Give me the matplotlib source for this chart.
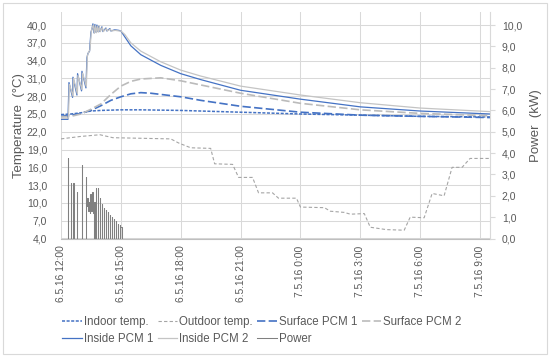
import matplotlib
matplotlib.use("Agg")
import matplotlib.pyplot as plt
from matplotlib.patches import Rectangle
from matplotlib.ticker import FuncFormatter

plt.rcParams['font.family'] = ['Liberation Sans', 'DejaVu Sans']

# hours after 6.5.16 12:00
XTICKS = [0, 3, 6, 9, 12, 15, 18, 21]
XLABELS = ['6.5.16 12:00', '6.5.16 15:00', '6.5.16 18:00', '6.5.16 21:00',
           '7.5.16 0:00', '7.5.16 3:00', '7.5.16 6:00', '7.5.16 9:00']

indoor_t = [0, 0.5, 1.0, 1.5, 2.0, 3.0, 4.0, 6.0, 9.0, 12.0, 15.0, 18.0, 21.5]
indoor_v = [24.9, 25.0, 25.2, 25.5, 25.6, 25.7, 25.7, 25.6, 25.3, 25.0, 24.8, 24.6, 24.5]

outdoor_t = [0, 0.95, 1.95, 2.6, 5.5, 5.9, 6.5, 7.5, 7.7, 8.6, 8.9, 9.6, 9.9, 10.6,
             10.9, 11.8, 12.0, 13.2, 13.5, 14.2, 14.5, 15.2, 15.5, 16.3, 17.2,
             17.5, 18.2, 18.6, 19.2, 19.6, 20.1, 20.5, 21.5]
outdoor_v = [20.8, 21.2, 21.5, 21.0, 20.8, 20.1, 19.3, 19.2, 16.6, 16.5, 14.3, 14.3,
             11.7, 11.7, 10.8, 10.8, 9.3, 9.2, 8.6, 8.4, 8.1, 8.2, 5.9, 5.5, 5.4,
             7.6, 7.5, 11.6, 11.2, 16.0, 16.0, 17.5, 17.5]

surf1_t = [0, 0.5, 1.0, 1.5, 2.0, 2.5, 3.0, 3.5, 4.0, 4.5, 5.0, 6.0, 7.0, 9.0,
           12.0, 15.0, 18.0, 21.5]
surf1_v = [24.6, 24.8, 25.1, 25.6, 26.4, 27.3, 27.9, 28.4, 28.6, 28.5, 28.3, 27.9,
           27.3, 26.3, 25.3, 24.8, 24.6, 24.4]

surf2_t = [0, 0.5, 1.0, 1.5, 2.0, 2.5, 3.0, 3.5, 4.0, 5.0, 6.0, 7.0, 9.0, 12.0,
           15.0, 18.0, 21.5]
surf2_v = [24.5, 24.6, 25.0, 25.8, 26.7, 28.3, 29.7, 30.5, 30.9, 31.1, 30.6, 29.9,
           28.5, 26.8, 25.7, 25.1, 24.7]

in1_t = [0, 0.35, 0.40, 0.58, 0.60, 0.80, 0.83, 1.03, 1.05, 1.25, 1.30, 1.35, 1.43,
         1.50, 1.55, 1.60, 1.65, 1.70, 1.75, 1.80, 1.85, 1.90, 1.95, 2.05, 2.10,
         2.25, 2.30, 2.45, 2.50, 2.70, 2.90, 3.0, 3.2, 3.5, 4.0, 5.0, 6.0, 7.0,
         9.0, 12.0, 15.0, 18.0, 21.5]
in1_v = [24.1, 24.1, 30.3, 27.8, 31.2, 28.2, 31.8, 28.9, 32.2, 29.4, 34.5, 35.2, 35.6,
         38.8, 39.3, 40.2, 38.7, 40.1, 38.8, 40.0, 38.9, 39.8, 38.9, 39.7, 38.9,
         39.5, 39.0, 39.4, 39.0, 39.2, 39.1, 39.0, 38.0, 36.5, 35.0, 33.2, 31.8,
         30.8, 29.0, 27.5, 26.2, 25.5, 25.0]

in2_t = [0, 0.37, 0.42, 0.60, 0.63, 0.82, 0.85, 1.05, 1.08, 1.27, 1.32, 1.38, 1.45,
         1.52, 1.57, 1.62, 1.67, 1.72, 1.77, 1.82, 1.87, 1.92, 1.97, 2.07, 2.12,
         2.27, 2.32, 2.47, 2.52, 2.72, 2.92, 3.0, 3.2, 3.5, 4.0, 5.0, 6.0, 7.0,
         9.0, 12.0, 15.0, 18.0, 21.5]
in2_v = [24.3, 24.3, 30.0, 28.0, 31.0, 28.4, 31.5, 29.1, 31.9, 29.6, 34.8, 35.4, 35.8,
         39.0, 39.6, 40.0, 38.6, 39.9, 38.7, 39.8, 38.8, 39.7, 38.9, 39.6, 38.9,
         39.4, 39.0, 39.3, 39.0, 39.1, 39.0, 39.0, 38.4, 37.0, 35.6, 33.8, 32.4,
         31.4, 29.7, 28.2, 26.9, 26.0, 25.4]

# power, stepwise samples (kW)
pow_t = [0.00, 0.33, 0.37, 0.48, 0.52, 0.61, 0.65, 0.78, 0.81, 1.03, 1.07,
         1.23, 1.27, 1.31, 1.35, 1.39, 1.43, 1.47, 1.51, 1.55, 1.59, 1.63,
         1.66, 1.69, 1.74, 1.77, 1.84, 1.87, 1.94, 1.97, 2.04, 2.07, 2.14, 2.17,
         2.24, 2.27, 2.34, 2.37, 2.44, 2.47, 2.54, 2.57, 2.64, 2.67, 2.74, 2.77,
         2.84, 2.87, 2.94, 2.97, 3.06, 21.5]
pow_v = [0, 3.75, 0, 2.6, 0, 2.6, 0, 2.2, 0, 3.45, 0,
         2.9, 1.5, 1.9, 1.3, 1.7, 1.2, 2.1, 1.3, 2.2, 1.2, 0,
         1.7, 0, 2.35, 0, 2.35, 0, 1.9, 0, 1.6, 0, 1.45, 0,
         1.35, 0, 1.24, 0, 1.1, 0, 1.0, 0, 0.9, 0, 0.8, 0,
         0.7, 0, 0.62, 0.53, 0, 0]

BLUE = '#4472C4'
TXT = '#595959'
GRID = '#D9D9D9'

fig = plt.figure(figsize=(5.5, 3.59), dpi=100)
ax = fig.add_axes([61 / 550, 120.5 / 359, 429 / 550, 226.5 / 359])
ax2 = ax.twinx()

l1, = ax.plot(indoor_t, indoor_v, color=BLUE, lw=1.1, dashes=(2, 1), label='Indoor temp.')
l2, = ax.plot(outdoor_t, outdoor_v, color='#A5A5A5', lw=0.8, dashes=(3, 2), label='Outdoor temp.')
l3, = ax.plot(surf1_t, surf1_v, color=BLUE, lw=1.2, dashes=(5, 2), label='Surface PCM 1')
l4, = ax.plot(surf2_t, surf2_v, color='#BBBBBB', lw=1.2, dashes=(5, 2), label='Surface PCM 2')
l5, = ax.plot(in1_t, in1_v, color=BLUE, lw=0.9, label='Inside PCM 1')
l6, = ax.plot(in2_t, in2_v, color='#C4C4C4', lw=0.9, label='Inside PCM 2')
l7, = ax2.plot(pow_t, pow_v, color='#808080', lw=0.75, drawstyle='steps-post', label='Power')

ax.set_xlim(0, 21.5)
ax.set_ylim(4, 42.2)
ax2.set_ylim(0, 10.61)
ax.set_yticks(range(4, 41, 3))
ax2.set_yticks(range(0, 11))
ax.set_xticks(XTICKS)
ax.set_xticklabels(XLABELS, rotation=90)
comma = FuncFormatter(lambda v, p: ('%.1f' % v).replace('.', ','))
ax.yaxis.set_major_formatter(comma)
ax2.yaxis.set_major_formatter(comma)

ax.grid(True, color=GRID, lw=0.75)
ax.set_axisbelow(True)
for s in ['top', 'left', 'right']:
    ax.spines[s].set_visible(False)
    ax2.spines[s].set_visible(False)
ax2.spines['bottom'].set_visible(False)
ax.spines['bottom'].set_color('#BFBFBF')
ax2.spines['right'].set_visible(True)
ax2.spines['right'].set_color(GRID)

ax.tick_params(axis='y', length=0, pad=10, labelsize=7.5, labelcolor=TXT)
ax.tick_params(axis='x', length=0, pad=5, labelsize=7.4, labelcolor=TXT)
ax2.tick_params(axis='y', length=3.5, color=GRID, pad=5, labelsize=7.5, labelcolor=TXT)

ax.set_ylabel('Temperature  (°C)', fontsize=9.5, color=TXT, labelpad=1)
ax2.set_ylabel('Power  (kW)', fontsize=9.5, color=TXT, labelpad=6)

# legend fills column-wise, so order handles to read row by row
fig.legend(handles=[l1, l5, l2, l6, l3, l7, l4], loc='upper center',
           bbox_to_anchor=(0.476, 0.135), ncol=4, frameon=False, fontsize=8.3,
           handlelength=1.7, handletextpad=0.15, columnspacing=0.4,
           labelspacing=0.4, borderpad=0, labelcolor=TXT)

fig.patches.append(Rectangle((3 / 550, 5 / 359), 544 / 550, 351 / 359,
                             transform=fig.transFigure, fill=False,
                             edgecolor=GRID, lw=0.8))

fig.savefig('out.png', dpi=100)
